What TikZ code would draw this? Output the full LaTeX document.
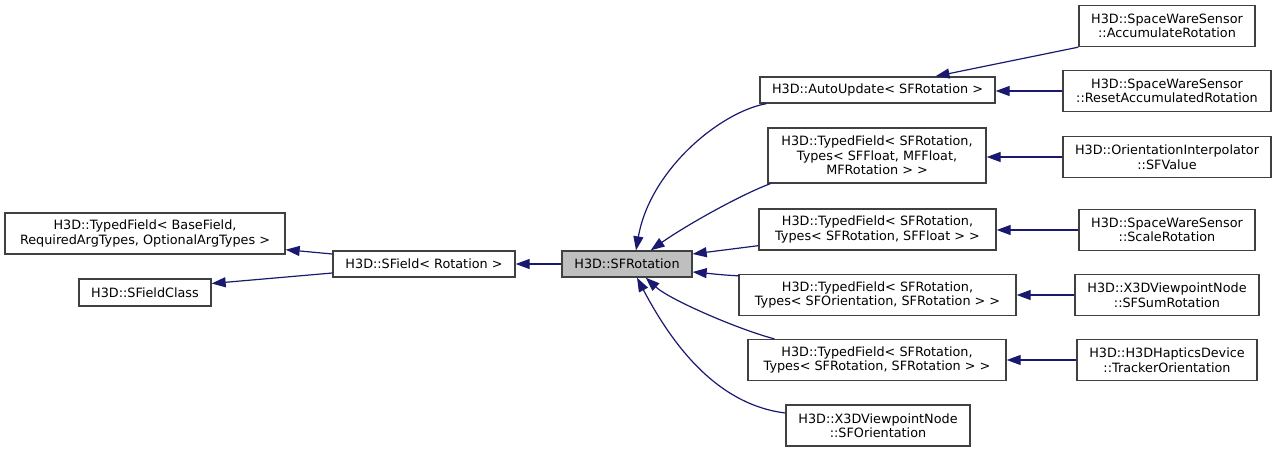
\documentclass[tikz,border=0pt]{standalone}
\usepackage{fontspec}
\setmainfont{DejaVu Sans}
\usepackage{xcolor}
\usepackage{tikz}
\usetikzlibrary{arrows.meta, calc}
\definecolor{EdgeBlue}{HTML}{191970}
\definecolor{BoxGray}{HTML}{404040}
\definecolor{CurGray}{HTML}{BFBFBF}

\begin{document}
\begin{tikzpicture}[x=0.75pt, y=-0.75pt,
  cls/.style={draw=BoxGray, fill=white, line width=1pt, inner sep=0pt,
    align=center, font=\fontsize{9.6}{10.9}\selectfont},
  onerow/.style={cls, minimum height=19.5pt},
  tworow/.style={cls, minimum height=30.75pt},
  edge/.style={draw=EdgeBlue, line width=0.9pt,
    -{Triangle[length=10.5pt, width=7.5pt]}}]
  \useasboundingbox (0,0) rectangle (1276,452);

  \node [tworow, minimum width=210pt] (tfbase) at (145,233.5)
    {H3D::TypedField< BaseField,\\ RequiredArgTypes, OptionalArgTypes >};
  \node [onerow, minimum width=99pt, minimum height=20.25pt] (sfclass) at (145,292.5)
    {H3D::SFieldClass};
  \node [onerow, minimum width=136.5pt] (sfield) at (424,264)
    {H3D::SField< Rotation >};
  \node [onerow, minimum width=97.5pt, fill=CurGray] (rot) at (627,264)
    {H3D::SFRotation};

  \node [onerow, minimum width=176.25pt] (auto) at (877.5,90)
    {H3D::AutoUpdate< SFRotation >};
  \node [cls, minimum width=163.5pt, minimum height=41.25pt] (tfa) at (877,155.5)
    {H3D::TypedField< SFRotation,\\ Types< SFFloat, MFFloat,\\ MFRotation > >};
  \node [tworow, minimum width=177.75pt] (tfb) at (877.5,229.5)
    {H3D::TypedField< SFRotation,\\ Types< SFRotation, SFFloat > >};
  \node [tworow, minimum width=207.75pt] (tfc) at (877.5,295)
    {H3D::TypedField< SFRotation,\\ Types< SFOrientation, SFRotation > >};
  \node [tworow, minimum width=193.5pt] (tfd) at (877,360)
    {H3D::TypedField< SFRotation,\\ Types< SFRotation, SFRotation > >};
  \node [tworow, minimum width=138pt] (sforient) at (878,425.5)
    {H3D::X3DViewpointNode\\ ::SFOrientation};

  \node [tworow, minimum width=132pt] (accum) at (1167,26)
    {H3D::SpaceWareSensor\\ ::AccumulateRotation};
  \node [tworow, minimum width=156pt] (reset) at (1167,91)
    {H3D::SpaceWareSensor\\ ::ResetAccumulatedRotation};
  \node [tworow, minimum width=156pt] (sfvalue) at (1167,157)
    {H3D::OrientationInterpolator\\ ::SFValue};
  \node [tworow, minimum width=132pt] (scale) at (1167,230)
    {H3D::SpaceWareSensor\\ ::ScaleRotation};
  \node [tworow, minimum width=138pt] (sfsum) at (1167,295)
    {H3D::X3DViewpointNode\\ ::SFSumRotation};
  \node [tworow, minimum width=135pt] (tracker) at (1167,360)
    {H3D::H3DHapticsDevice\\ ::TrackerOrientation};

  \draw [edge] ($(sfield.west)+(0,-10)$) -- ($(tfbase.south east)+(0,-5)$);
  \draw [edge] ($(sfield.west)+(0,9)$) -- ($(sfclass.east)+(0,-9)$);
  \draw [edge] (rot.west) -- (sfield.east);

  \draw [edge] ($(auto.south west)+(7,0)$) .. controls (720,112) and (650,170)
    .. ($(rot.north)+(9,0)$);
  \draw [edge] ($(tfa.south west)+(3,0)$) .. controls (740,195) and (685,226)
    .. ($(rot.north east)+(-42,0)$);
  \draw [edge] ($(tfb.south west)+(0,-5)$) -- ($(rot.east)+(0,-10)$);
  \draw [edge] ($(tfc.north west)+(1,2)$) .. controls (720,275) and (705,273)
    .. ($(rot.east)+(0,8)$);
  \draw [edge] ($(tfd.north west)+(27,0)$) .. controls (740,330) and (670,300)
    .. ($(rot.south east)+(-47,0)$);
  \draw [edge] ($(sforient.west)+(0,-12.5)$) .. controls (720,405) and (675,350)
    .. ($(rot.south)+(10,0)$);

  \draw [edge] (accum.south west) -- ($(auto.north)+(58,0)$);
  \draw [edge] (reset.west) -- (reset.west -| auto.east);
  \draw [edge] (sfvalue.west) -- (sfvalue.west -| tfa.east);
  \draw [edge] (scale.west) -- (scale.west -| tfb.east);
  \draw [edge] (sfsum.west) -- (sfsum.west -| tfc.east);
  \draw [edge] (tracker.west) -- (tracker.west -| tfd.east);
\end{tikzpicture}
\end{document}
